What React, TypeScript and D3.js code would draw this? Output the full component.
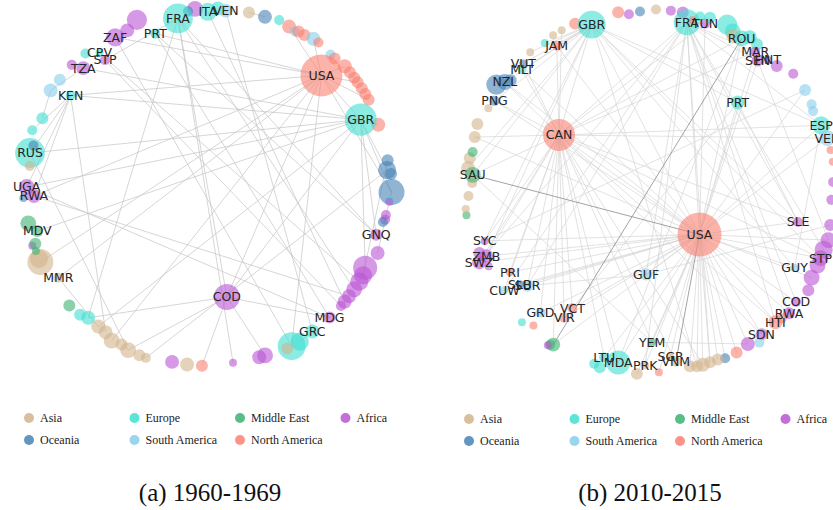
import React from "react";
import * as d3 from "d3";

// node = [id, region, angle (deg, clockwise from top), radius (share of ring), weight]
type Node = [string, string, number, number, number];

const REGION_NAMES = ["Asia", "Europe", "Middle East", "Africa", "Oceania", "South America", "North America"];
const REGION_KEYS = ["AS", "EU", "ME", "AF", "OC", "SA", "NA"];
const REGION_COLORS = ["#d2b48c", "#40e0d0", "#3cb371", "#ba55d3", "#4682b4", "#87ceeb", "#fa8072"];

const nodes1960: Node[] = [
  ["a_af1", "AF", 355.2, 1.01, 13], ["a_oc1", "OC", 352.9, 1.0, 5.2], ["FRA", "EU", 349.3, 0.97, 46],
  ["ITA", "EU", 359.3, 0.99, 17], ["a_eu1", "EU", 2.5, 1.01, 10], ["VEN", "SA", 5.1, 1.0, 10],
  ["a_as1", "AS", 12.5, 1.01, 7.4], ["a_oc2", "OC", 17.8, 1.01, 10], ["a_eu2", "EU", 22.4, 1.02, 5.2],
  ["a_na1", "NA", 26.1, 1.01, 10], ["a_sa1", "SA", 28.5, 1.0, 5.2], ["a_na2", "NA", 29.5, 1.01, 7.4],
  ["a_na3", "NA", 31.7, 1.01, 7.4], ["a_sa2", "SA", 34.7, 1.02, 10], ["a_na4", "NA", 36.7, 1.02, 5.2],
  ["a_sa3", "SA", 42.1, 1.01, 5.2], ["a_na5", "NA", 43.9, 1.01, 7.4], ["a_na6", "NA", 47.9, 1.02, 10],
  ["a_na7", "NA", 50.4, 1.02, 7.4], ["a_na8", "NA", 52.6, 1.02, 7.4], ["a_na9", "NA", 54.4, 1.02, 7.4],
  ["a_na10", "NA", 56.7, 1.02, 7.4], ["a_na11", "NA", 58.8, 1.02, 7.4], ["a_na12", "NA", 60.9, 1.02, 7.4],
  ["USA", "NA", 44.7, 0.89, 91], ["a_na13", "NA", 69.4, 1.01, 10], ["GBR", "EU", 65.6, 0.93, 53],
  ["a_oc3", "OC", 81.1, 1.01, 7.4], ["a_oc4", "OC", 84.2, 1.0, 17], ["a_oc5", "OC", 85.6, 1.02, 7.4],
  ["a_oc6", "OC", 91.3, 1.02, 35], ["a_eu3", "EU", 93.8, 1.01, 3.3], ["a_af2", "AF", 94.4, 1.01, 3.3],
  ["a_af3", "AF", 98.7, 1.0, 5.2], ["a_af4", "AF", 100.3, 1.0, 5.2], ["a_oc7", "OC", 101.1, 0.99, 5.2],
  ["GNQ", "AF", 105.7, 0.97, 7.4], ["a_af5", "AF", 111.2, 1.01, 10], ["a_af6", "AF", 117.2, 0.98, 30],
  ["a_af7", "AF", 119.7, 0.99, 17], ["a_af8", "AF", 122.1, 0.99, 17], ["a_af9", "AF", 125.1, 0.99, 13],
  ["a_af10", "AF", 127.9, 0.99, 10], ["a_af11", "AF", 130.2, 0.99, 10], ["a_af12", "AF", 132, 0.99, 5.2],
  ["MDG", "AF", 137.3, 0.99, 7.4], ["a_eu4", "EU", 149.7, 1.0, 17], ["a_eu5", "EU", 152.7, 1.0, 40],
  ["a_as2", "AS", 154.3, 1.0, 7.4], ["GRC", "EU", 144.5, 0.99, 10], ["a_af13", "AF", 161.8, 0.99, 13],
  ["a_af14", "AF", 163.8, 0.99, 10], ["a_af15", "AF", 172.5, 0.99, 3.3], ["a_na14", "NA", 182.6, 1.0, 7.4],
  ["a_as3", "AS", 187.4, 1.0, 10], ["a_af16", "AF", 192.3, 1.0, 10], ["a_as4", "AS", 200.7, 1.02, 5.2],
  ["a_as5", "AS", 202.9, 1.02, 7.4], ["a_as6", "AS", 206.8, 1.02, 13], ["a_as7", "AS", 209.5, 1.01, 7.4],
  ["a_as8", "AS", 212.8, 1.02, 13], ["a_as9", "AS", 215.9, 1.0, 10], ["a_as10", "AS", 218.9, 1.0, 10],
  ["a_eu6", "EU", 223.2, 1.0, 10], ["a_eu7", "EU", 225.7, 1.02, 7.4], ["a_me1", "ME", 230.1, 1.03, 7.4],
  ["MMR", "AS", 239.4, 0.99, 5.2], ["a_as11", "AS", 246.4, 1.04, 35], ["a_as12", "AS", 247.5, 1.04, 17],
  ["a_me2", "ME", 250.1, 1.04, 3.3], ["a_af17", "AF", 252, 1.05, 3.3], ["a_me3", "ME", 252.3, 1.03, 7.4],
  ["a_me4", "ME", 259, 1.04, 13], ["MDV", "ME", 256, 1.0, 7.4], ["a_oc8", "OC", 266.9, 1.05, 3.3],
  ["RWA", "AF", 267.4, 0.99, 10], ["UGA", "AF", 270.3, 1.03, 13], ["RUS", "EU", 281, 1.03, 46],
  ["a_as13", "AS", 277, 1.02, 5.2], ["a_oc9", "OC", 283.5, 1.02, 5.2], ["a_eu8", "EU", 288, 1.05, 5.2],
  ["a_eu9", "EU", 292.6, 1.02, 7.4], ["a_sa4", "SA", 301.5, 1.05, 10], ["a_sa5", "SA", 305.8, 1.04, 7.4],
  ["KEN", "EU", 303.6, 0.94, 5.2], ["a_af18", "AF", 311.7, 1.04, 5.2], ["TZA", "AF", 313.4, 0.98, 10],
  ["a_eu10", "EU", 317.2, 1.03, 5.2], ["CPV", "EU", 320.7, 0.98, 3.3], ["STP", "AF", 320.6, 0.93, 5.2],
  ["ZAF", "AF", 327.8, 1.0, 17], ["a_af19", "AF", 332.3, 1.0, 10], ["a_af20", "AF", 336.5, 1.03, 21],
  ["PRT", "EU", 340.5, 0.92, 5.2], ["COD", "AF", 171.2, 0.62, 35],
];

const edges1960: [string, string][] = [
  ["USA", "GBR"], ["USA", "COD"], ["USA", "a_as8"], ["USA", "a_as11"], ["USA", "KEN"], ["USA", "PRT"],
  ["USA", "a_na1"], ["USA", "a_na6"], ["USA", "a_na9"], ["USA", "a_na12"], ["USA", "a_sa2"], ["USA", "a_eu5"],
  ["USA", "MMR"], ["USA", "a_oc6"], ["USA", "ZAF"], ["USA", "RWA"],
  ["GBR", "COD"], ["GBR", "KEN"], ["GBR", "RUS"], ["GBR", "a_oc6"], ["GBR", "a_oc4"], ["GBR", "GNQ"],
  ["GBR", "a_af6"], ["GBR", "TZA"], ["GBR", "a_as10"], ["GBR", "UGA"], ["GBR", "MDV"], ["GBR", "a_na13"],
  ["FRA", "a_af15"], ["FRA", "COD"], ["FRA", "GNQ"], ["FRA", "STP"], ["FRA", "a_af9"], ["FRA", "a_eu6"],
  ["VEN", "GRC"], ["ITA", "a_af11"], ["PRT", "GNQ"], ["PRT", "MDG"], ["ZAF", "a_eu5"], ["CPV", "a_af8"],
  ["STP", "a_af12"], ["KEN", "RUS"], ["KEN", "UGA"], ["KEN", "RWA"], ["KEN", "a_as9"], ["KEN", "a_eu8"],
  ["RUS", "a_as6"], ["RWA", "a_af10"], ["UGA", "MDG"], ["MMR", "a_as10"], ["COD", "a_na14"], ["COD", "a_eu6"],
  ["COD", "MDG"], ["COD", "a_as6"], ["COD", "a_af13"], ["a_as4", "a_oc4"], ["a_oc6", "a_af5"],
  ["a_oc3", "a_af7"], ["a_sa4", "a_eu9"], ["TZA", "a_sa4"], ["a_as1", "a_oc2"], ["GRC", "a_eu4"],
];

const labels1960 = ["FRA", "ITA", "VEN", "USA", "GBR", "GNQ", "MDG", "GRC", "COD", "MMR", "MDV", "RWA", "UGA",
  "RUS", "KEN", "TZA", "CPV", "STP", "ZAF", "PRT"];

const nodes2010: Node[] = [
  ["b_na1", "NA", 335.9, 1.03, 7.4], ["GBR", "EU", 340.7, 0.99, 40], ["b_na2", "NA", 349.9, 1.02, 7.4],
  ["b_af1", "AF", 353.2, 1.0, 5.2], ["b_oc1", "OC", 356.8, 1.01, 5.2], ["b_as1", "AS", 1.9, 1.02, 5.2],
  ["b_af2", "AF", 6.6, 1.02, 5.2], ["b_af3", "AF", 10.4, 1.02, 7.4], ["FRA", "EU", 12.3, 0.97, 35],
  ["b_na3", "NA", 14.1, 0.99, 3.3], ["b_eu1", "EU", 16, 1.02, 5.2], ["TUN", "AF", 18.2, 0.99, 5.2],
  ["b_eu2", "EU", 19.1, 1.03, 7.4], ["b_eu3", "EU", 24.9, 1.03, 21], ["b_eu4", "EU", 27.4, 1.01, 13],
  ["b_as2", "AS", 28.2, 0.99, 10], ["ROU", "EU", 31, 1.0, 13], ["b_eu5", "EU", 33, 1.03, 10],
  ["b_eu6", "EU", 36.1, 1.02, 7.4], ["MAR", "AF", 37.1, 0.98, 5.2], ["SEN", "AF", 39.5, 0.95, 7.4],
  ["HNT", "AF", 42, 0.99, 3.3], ["b_af4", "AF", 45.4, 1.0, 7.4], ["b_af5", "AF", 50.7, 1.04, 5.2],
  ["b_sa1", "SA", 56.9, 1.04, 7.4], ["b_sa2", "SA", 61.8, 1.03, 5.2], ["b_sa3", "SA", 63.9, 1.02, 5.2],
  ["ESP", "EU", 69, 1.03, 17], ["VEN", "SA", 73.4, 1.04, 13], ["b_na4", "NA", 77.2, 1.04, 3.3],
  ["b_na5", "NA", 80.9, 1.04, 3.3], ["b_af6", "AF", 87.2, 1.03, 5.2], ["b_af7", "AF", 92.8, 1.02, 5.2],
  ["SLE", "AF", 101.8, 0.85, 5.2], ["b_af8", "AF", 100.7, 1.03, 7.4], ["b_af9", "AF", 105.4, 1.04, 13],
  ["b_af10", "AF", 108.7, 1.03, 17], ["STP", "AF", 111.5, 1.03, 13], ["b_af11", "AF", 114, 1.03, 13],
  ["GUY", "SA", 118, 0.92, 3.3], ["b_af12", "AF", 118.2, 1.03, 13], ["b_af13", "AF", 122.1, 1.05, 7.4],
  ["COD", "AF", 127.2, 1.03, 5.2], ["RWA", "AF", 131.3, 1.04, 7.4], ["b_na6", "NA", 134, 1.03, 5.2],
  ["HTI", "NA", 136.3, 1.02, 10], ["SDN", "AF", 142.1, 1.02, 7.4], ["b_sa4", "SA", 144.2, 1.05, 5.2],
  ["b_af14", "AF", 147.4, 1.02, 10], ["b_na7", "NA", 151.8, 1.03, 7.4], ["b_oc2", "OC", 155.8, 1.03, 5.2],
  ["b_as3", "AS", 158.1, 1.02, 7.4], ["b_as4", "AS", 160.7, 1.02, 7.4], ["b_as5", "AS", 163.1, 1.02, 10],
  ["b_as6", "AS", 165, 1.02, 7.4], ["b_as7", "AS", 167.2, 1.01, 7.4], ["VNM", "AS", 171.4, 0.97, 5.2],
  ["SGP", "AS", 173.1, 0.94, 3.3], ["b_na8", "NA", 177.2, 1.02, 3.3], ["PRK", "AS", 181.6, 0.98, 3.3],
  ["b_as8", "AS", 184.1, 1.03, 7.4], ["MDA", "EU", 190.5, 0.98, 30], ["LTU", "EU", 195.4, 0.97, 5.2],
  ["b_eu7", "EU", 195.9, 1.03, 7.4], ["b_eu8", "EU", 197.9, 1.02, 5.2], ["YEM", "ME", 179.2, 0.85, 3.3],
  ["GUF", "SA", 182.7, 0.47, 7.4], ["USA", "NA", 131.3, 0.37, 100], ["b_me1", "ME", 212.2, 1.02, 10],
  ["b_me2", "ME", 213, 1.03, 5.2], ["b_af15", "AF", 213.5, 1.04, 3.3], ["b_eu9", "EU", 224.3, 1.03, 3.3],
  ["b_na9", "NA", 220.9, 1.0, 3.3], ["GRD", "SA", 222, 0.92, 5.2], ["VIR", "NA", 214.1, 0.86, 5.2],
  ["VCT", "NA", 213.5, 0.79, 5.2], ["CUW", "SA", 235.7, 0.99, 3.3], ["SUR", "SA", 232.3, 0.87, 7.4],
  ["SLB", "OC", 234.4, 0.9, 3.3], ["PRI", "NA", 239.9, 0.91, 3.3], ["SYC", "AF", 253.2, 0.97, 3.3],
  ["b_af17", "AF", 245, 1.0, 3.3], ["ZMB", "AF", 248.3, 0.99, 10], ["SWZ", "AF", 247.3, 1.04, 10],
  ["b_af16", "AF", 250, 1.02, 7.4], ["b_me3", "ME", 262.5, 1.04, 3.3], ["b_as9", "AS", 264.4, 1.04, 3.3],
  ["b_as10", "AS", 268.4, 1.02, 5.2], ["b_as11", "AS", 272.6, 1.0, 5.2], ["b_as12", "AS", 277.2, 1.03, 10],
  ["b_as13", "AS", 280.4, 1.03, 7.4], ["SAU", "ME", 275.2, 1.0, 13], ["b_me4", "ME", 282.4, 1.02, 5.2],
  ["b_as14", "AS", 287.1, 1.03, 7.4], ["b_as15", "AS", 291.2, 1.04, 7.4], ["b_as16", "AS", 297.1, 1.02, 3.3],
  ["PNG", "OC", 300.1, 1.01, 5.2], ["b_oc3", "OC", 304.7, 1.05, 21], ["NZL", "OC", 306.9, 1.02, 13],
  ["b_oc4", "OC", 308.5, 1.0, 7.4], ["MLT", "EU", 313.4, 0.99, 3.3], ["VUT", "OC", 315.2, 1.01, 3.3],
  ["b_as17", "AS", 319.2, 1.03, 3.3], ["b_eu10", "EU", 324.6, 1.02, 3.3], ["JAM", "NA", 327.3, 0.97, 5.2],
  ["b_as18", "AS", 328.1, 1.03, 3.3], ["b_as19", "AS", 331.2, 1.03, 3.3], ["CAN", "NA", 301.6, 0.6, 53],
  ["PRT", "EU", 44.7, 0.7, 10],
];

const usaLinks2010 = ["b_as3", "b_as4", "b_as5", "b_as6", "b_as7", "SGP", "PRK", "b_na8", "b_as8", "MDA",
  "LTU", "YEM", "GUF", "b_oc2", "b_na7", "b_af14", "SDN", "HTI", "RWA", "COD", "STP", "GUY", "SLE", "b_af12",
  "GRD", "VIR", "VCT", "CUW", "SUR", "SLB", "PRI", "SYC", "ZMB", "SWZ", "PNG", "NZL", "JAM", "GBR", "FRA",
  "TUN", "ROU", "MAR", "SEN", "ESP", "VEN", "PRT", "CAN", "b_me1", "b_as14", "MLT", "b_af9", "b_sa1"];
const canLinks2010 = ["GBR", "FRA", "JAM", "NZL", "PNG", "SAU", "SWZ", "ZMB", "PRI", "SUR", "CUW", "GRD",
  "VCT", "VIR", "MDA", "LTU", "YEM", "SLE", "STP", "HTI", "ESP", "VEN", "ROU", "MAR", "SDN", "b_as5", "VNM",
  "b_as14", "SYC", "b_me1", "MLT", "VUT", "b_as19", "TUN"];
const gbrLinks2010 = ["JAM", "NZL", "VUT", "MLT", "PNG", "SAU", "STP", "SLE", "ESP", "b_as12", "b_as17",
  "SYC", "ZMB", "GUY", "PRT", "b_as6", "b_eu10"];
const fraLinks2010 = ["TUN", "SEN", "MAR", "COD", "RWA", "HTI", "GUF", "SLE", "ESP", "SUR", "b_af10", "SWZ",
  "b_as4", "PRK", "CUW"];
const otherEdges2010: [string, string][] = [
  ["PRT", "SLE"], ["PRT", "VCT"], ["ESP", "GUY"], ["GUF", "b_af8"], ["SAU", "YEM"], ["NZL", "VUT"],
  ["ROU", "MDA"], ["SEN", "b_af9"], ["SYC", "b_sa1"], ["GUF", "SUR"], ["YEM", "b_af14"],
];
const strongEdges2010: [string, string][] = [["ROU", "b_me1"], ["USA", "SAU"], ["USA", "VNM"]];

const labels2010 = ["GBR", "FRA", "TUN", "ROU", "MAR", "SEN", "HNT", "ESP", "VEN", "SLE", "STP", "GUY", "COD",
  "RWA", "HTI", "SDN", "VNM", "SGP", "PRK", "MDA", "LTU", "YEM", "GUF", "USA", "GRD", "VIR", "VCT", "CUW",
  "SUR", "SLB", "PRI", "SYC", "ZMB", "SWZ", "SAU", "PNG", "NZL", "MLT", "VUT", "JAM", "CAN", "PRT"];

const colorOf = d3.scaleOrdinal<string, string>().domain(REGION_KEYS).range(REGION_COLORS);
const angleScale = d3.scaleLinear().domain([0, 360]).range([0, 2 * Math.PI]);
const ringScale = d3.scaleLinear().domain([0, 1]).range([0, 178]);
const sizeScale = d3.scaleSqrt().domain([0, 100]).range([0, 22]);

function Panel(props: {
  nodes: Node[]; edges: [string, string][]; strong: [string, string][]; labels: string[];
  cx: number; cy: number; legendX: number; legendY: number; caption: string; edgeColor: string;
}) {
  const { nodes, edges, strong, labels, cx, cy, legendX, legendY, caption, edgeColor } = props;
  const pos = new Map<string, [number, number]>();
  nodes.forEach((n) => pos.set(n[0], d3.pointRadial(angleScale(n[2]), ringScale(n[3])) as [number, number]));
  const line = (e: [string, string], i: number, stroke: string, w: number) => {
    const a = pos.get(e[0]);
    const b = pos.get(e[1]);
    if (!a || !b) return null;
    return <line key={i} x1={a[0]} y1={a[1]} x2={b[0]} y2={b[1]} stroke={stroke} strokeWidth={w} />;
  };
  return (
    <g>
      <g transform={`translate(${cx},${cy})`}>
        {edges.map((e, i) => line(e, i, edgeColor, 0.7))}
        {strong.map((e, i) => line(e, i, "#999", 0.9))}
        {nodes.map((n) => {
          const p = pos.get(n[0])!;
          return <circle key={n[0]} cx={p[0]} cy={p[1]} r={sizeScale(n[4])} fill={colorOf(n[1])} fillOpacity={0.6} />;
        })}
        {nodes.filter((n) => labels.includes(n[0])).map((n) => {
          const p = pos.get(n[0])!;
          return (
            <text key={"t" + n[0]} x={p[0]} y={p[1]} dy="0.35em" textAnchor="middle"
              fontFamily="DejaVu Sans, sans-serif" fontSize={12.5} fill="#262626">{n[0]}</text>
          );
        })}
      </g>
      <g fontFamily="Liberation Serif, Times New Roman, serif" fontSize={12} fill="#222">
        {REGION_NAMES.map((name, i) => {
          const x = legendX + (i % 4) * 105.5;
          const y = legendY + Math.floor(i / 4) * 22;
          return (
            <g key={name}>
              <circle cx={x} cy={y} r={5} fill={REGION_COLORS[i]} fillOpacity={0.85} />
              <text x={x + 11} y={y + 4}>{name}</text>
            </g>
          );
        })}
      </g>
      <text x={cx} y={501} textAnchor="middle" fontFamily="Liberation Serif, Times New Roman, serif"
        fontSize={25} fill="#111">{caption}</text>
    </g>
  );
}

export default function App() {
  const edges2010: [string, string][] = [
    ...usaLinks2010.map((t) => ["USA", t] as [string, string]),
    ...canLinks2010.map((t) => ["CAN", t] as [string, string]),
    ...gbrLinks2010.map((t) => ["GBR", t] as [string, string]),
    ...fraLinks2010.map((t) => ["FRA", t] as [string, string]),
    ...otherEdges2010,
  ];
  return (
    <svg width={833} height={510} style={{ position: "absolute", left: 0, top: 0, background: "#fff" }}>
      <Panel nodes={nodes1960} edges={edges1960} strong={[]} labels={labels1960} cx={210} cy={188}
        legendX={29} legendY={418} caption="(a) 1960-1969" edgeColor="#c4c4c4" />
      <Panel nodes={nodes2010} edges={edges2010} strong={strongEdges2010} labels={labels2010} cx={650} cy={191}
        legendX={469} legendY={419} caption="(b) 2010-2015" edgeColor="#d6d6d6" />
    </svg>
  );
}
